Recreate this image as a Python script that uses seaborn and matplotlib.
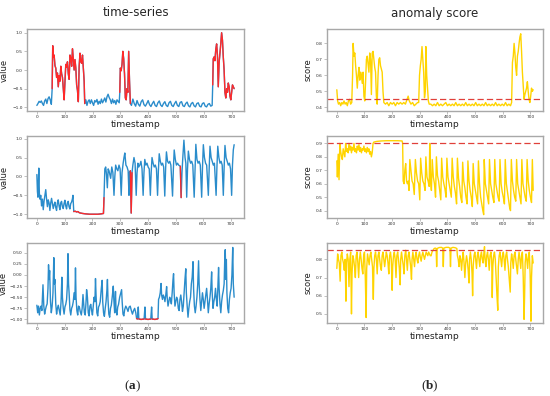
import matplotlib
matplotlib.use("Agg")
import matplotlib.pyplot as plt
from matplotlib.ticker import MultipleLocator
import seaborn as sns
import pandas as pd

# ---------------- data (timestamp, value) ----------------
ts1 = [(0,-0.95),(4,-0.9),(8,-0.84),(12,-0.87),(16,-0.83),(20,-0.9),(24,-0.95),(28,-0.83),(32,-0.78),(36,-0.9),
       (40,-0.77),(44,-0.72),(48,-0.8),(52,-0.92),(55,-0.5),
       (57,0.65),(59,0.35),(62,0.4),(65,0.12),(68,0.05),(71,-0.2),(74,-0.08),(77,-0.45),(80,-0.15),(83,-0.3),
       (86,0.1),(89,-0.1),(92,-0.2),(95,-0.5),(98,-0.8),(101,-0.3),(104,0.15),(107,0.08),(110,0.22),(113,-0.1),
       (116,-0.25),(119,0.4),(122,0.32),(125,0.1),(128,0.57),(131,0.3),(134,0.0),(137,0.28),(140,0.05),(143,-0.4),
       (146,-0.55),(149,-0.85),(152,0.1),(155,0.45),(158,0.22),(161,0.18),(164,0.4),(167,0.05),(170,-0.3),(172,-0.9),
       (176,-0.8),(180,-0.95),(184,-0.84),(188,-0.8),(192,-0.9),(196,-0.8),(200,-0.88),(204,-0.95),(208,-0.82),
       (212,-0.86),(216,-0.79),(220,-0.92),(224,-0.84),(228,-0.9),(232,-0.78),(236,-0.88),(240,-0.82),(244,-0.75),
       (248,-0.86),(252,-0.72),(256,-0.65),(260,-0.74),(264,-0.8),(268,-0.9),(272,-0.78),(276,-0.88),(280,-0.82),
       (284,-0.92),(288,-0.8),(292,-0.84),(296,-0.88),(298,-0.6),
       (300,0.05),(303,-0.02),(306,0.15),(309,0.5),(312,0.3),(315,-0.1),(318,-0.75),(321,-0.8),(324,-0.5),
       (327,-0.6),(330,0.5),(333,-0.3),(336,-0.9),
       (340,-0.95),(345,-0.78),(350,-0.9),(355,-0.97),(360,-0.82),(365,-0.92),(370,-0.97),(375,-0.85),(380,-0.8),
       (385,-0.93),(390,-0.97),(395,-0.9),(400,-0.82),(405,-0.93),(410,-0.98),(415,-0.9),(420,-0.84),(425,-0.95),
       (430,-0.98),(435,-0.88),(440,-0.83),(445,-0.94),(450,-0.98),(455,-0.9),(460,-0.85),(465,-0.95),(470,-0.98),
       (475,-0.88),(480,-0.84),(485,-0.95),(490,-0.98),(495,-0.9),(500,-0.84),(505,-0.95),(510,-0.98),(515,-0.87),
       (520,-0.85),(525,-0.96),(530,-0.98),(535,-0.9),(540,-0.86),(545,-0.96),(550,-0.99),(555,-0.9),(560,-0.87),
       (565,-0.96),(570,-0.99),(575,-0.9),(580,-0.88),(585,-0.97),(590,-0.99),(595,-0.9),(600,-0.88),(605,-0.97),
       (610,-0.99),(615,-0.92),(620,-0.9),(625,-0.97),(630,-0.95),(632,-0.4),
       (634,0.3),(637,0.35),(640,0.25),(643,0.55),(646,0.7),(649,0.4),(652,-0.45),(655,0.2),(658,0.45),(661,0.7),
       (664,1.0),(667,0.8),(670,0.35),(673,0.0),(676,-0.6),(679,-0.75),(682,-0.5),(685,-0.6),(688,-0.35),
       (691,-0.45),(694,-0.7),(697,-0.8),(700,-0.6),(703,-0.4),(706,-0.45),(709,-0.5)]
ts1_anomalies = [(55, 172), (298, 336), (632, 709)]

score1 = [(0,0.51),(3,0.44),(6,0.42),(10,0.43),(14,0.41),(18,0.43),(22,0.42),(26,0.44),(30,0.42),(34,0.43),
          (38,0.41),(42,0.44),(46,0.45),(50,0.42),(54,0.43),(57,0.6),(59,0.8),(62,0.72),(65,0.74),(68,0.66),
          (71,0.6),(74,0.52),(77,0.6),(80,0.65),(83,0.57),(86,0.62),(89,0.6),(92,0.55),(95,0.62),(98,0.47),
          (101,0.44),(104,0.56),(107,0.7),(110,0.72),(113,0.67),(116,0.62),(119,0.74),(122,0.7),(125,0.48),
          (128,0.74),(131,0.75),(134,0.7),(137,0.65),(140,0.62),(143,0.47),(146,0.42),(149,0.6),(152,0.7),
          (155,0.71),(158,0.66),(161,0.64),(164,0.62),(167,0.5),(170,0.43),
          (176,0.42),(182,0.43),(188,0.41),(194,0.43),(200,0.42),(206,0.43),(212,0.41),(218,0.43),(224,0.42),
          (230,0.43),(236,0.42),(242,0.43),(248,0.42),(254,0.45),(258,0.47),(262,0.44),(268,0.42),(274,0.43),
          (280,0.41),(286,0.42),(292,0.43),(296,0.43),
          (299,0.6),(302,0.66),(305,0.7),(308,0.78),(311,0.7),(314,0.62),(317,0.46),(320,0.5),(322,0.78),
          (325,0.6),(328,0.52),(331,0.44),(334,0.42),
          (340,0.42),(346,0.41),(352,0.42),(358,0.41),(364,0.43),(370,0.41),(376,0.42),(382,0.41),(388,0.42),
          (394,0.43),(400,0.41),(406,0.42),(412,0.41),(418,0.42),(424,0.41),(430,0.43),(436,0.41),(442,0.42),
          (448,0.41),(454,0.42),(460,0.41),(466,0.43),(472,0.41),(478,0.42),(484,0.41),(490,0.42),(496,0.41),
          (502,0.43),(508,0.41),(514,0.42),(520,0.41),(526,0.42),(532,0.41),(538,0.43),(544,0.41),(550,0.42),
          (556,0.41),(562,0.42),(568,0.41),(574,0.43),(580,0.41),(586,0.42),(592,0.41),(598,0.42),(604,0.41),
          (610,0.43),(616,0.41),(622,0.42),(628,0.41),(632,0.43),
          (635,0.68),(638,0.72),(641,0.8),(644,0.74),(647,0.65),(650,0.6),(653,0.72),(656,0.75),(659,0.8),
          (662,0.84),(665,0.86),(668,0.75),(671,0.62),(674,0.53),(677,0.45),(680,0.48),(683,0.5),(686,0.52),
          (689,0.56),(692,0.5),(695,0.45),(698,0.43),(701,0.47),(704,0.52),(707,0.5),(710,0.51)]
score1_threshold = 0.45

ts2 = [(0,0.05),(2,-0.4),(4,-0.55),(7,0.22),(9,-0.45),(11,-0.6),(14,-0.5),(17,-0.78),(20,-0.6),(23,-0.88),
       (26,-0.65),(29,-0.5),(32,-0.35),(35,-0.6),(38,-0.8),(41,-0.62),(44,-0.7),(47,-0.9),(50,-0.7),(53,-0.58),
       (56,-0.72),(59,-0.85),(62,-0.75),(65,-0.68),(68,-0.82),(71,-0.9),(74,-0.7),(77,-0.62),(80,-0.78),
       (83,-0.88),(86,-0.7),(89,-0.66),(92,-0.8),(95,-0.85),(98,-0.72),(101,-0.63),(104,-0.78),(107,-0.86),
       (110,-0.7),(113,-0.66),(116,-0.8),(119,-0.86),(122,-0.72),(125,-0.68),(128,-0.6),(130,-0.5),(133,-0.93),
       (138,-0.92),(143,-0.94),(148,-0.93),(153,-0.96),(158,-0.97),(165,-0.98),(175,-0.99),(190,-1.0),
       (205,-1.0),(220,-1.0),(232,-0.99),(240,-0.98),(242,-0.56),
       (245,0.2),(248,0.25),(251,0.05),(254,-0.3),(257,0.2),(260,0.15),(263,0.05),(266,-0.05),(270,0.25),
       (274,0.1),(278,-0.5),(281,0.0),(284,0.3),(288,0.2),(292,0.15),(296,0.3),(300,0.2),(304,-0.5),(307,0.1),
       (311,0.35),(314,0.5),(317,0.62),(321,0.3),(325,0.25),(329,0.15),(332,-0.5),(334,0.1),(337,0.15),
       (340,-0.97),(343,0.1),
       (346,0.3),(350,0.5),(354,0.35),(358,-0.5),(361,0.1),(364,0.35),(367,0.25),(371,0.3),(375,0.4),(379,0.2),
       (383,-0.5),(386,0.1),(389,0.45),(393,0.3),(397,0.35),(401,0.25),(405,0.2),(409,-0.5),(412,0.1),
       (415,0.5),(419,0.35),(423,0.25),(427,0.3),(431,0.2),(435,-0.5),(438,0.15),(441,0.6),(445,0.4),
       (449,0.3),(453,0.35),(457,0.25),(461,-0.52),(464,0.2),(467,0.65),(471,0.4),(475,0.35),(479,0.4),
       (483,0.3),(489,-0.52),(492,0.2),(495,0.7),(499,0.45),(503,0.3),(507,0.35),(511,0.3),(517,0.27),
       (520,-0.56),
       (523,0.1),(526,0.5),(530,0.96),(534,0.5),(537,0.35),(540,-0.55),(543,0.2),(546,0.67),(550,0.45),
       (554,0.35),(558,0.4),(562,0.3),(567,-0.55),(570,0.2),(573,0.85),(577,0.45),(581,0.35),(585,0.4),
       (589,0.3),(594,-0.55),(597,0.25),(600,0.84),(604,0.5),(608,0.35),(612,0.3),(618,-0.5),(621,0.2),
       (624,0.8),(628,0.5),(632,0.4),(636,0.3),(640,0.35),(646,-0.5),(649,0.25),(652,0.8),(656,0.5),(660,0.35),
       (664,0.4),(668,0.3),(672,-0.5),(675,0.25),(678,0.82),(682,0.5),(686,0.4),(690,0.3),(694,0.35),
       (698,0.2),(702,-0.5),(705,0.3),(708,0.7),(711,0.84)]
ts2_anomalies = [(133, 242), (337, 343), (517, 520)]

score2 = [(0,0.77),(2,0.65),(5,0.82),(8,0.63),(11,0.9),(14,0.84),(17,0.8),(20,0.78),(23,0.86),(26,0.83),
          (29,0.8),(32,0.9),(35,0.84),(38,0.86),(41,0.83),(44,0.9),(47,0.85),(50,0.88),(53,0.83),(56,0.87),
          (59,0.85),(62,0.9),(65,0.84),(68,0.86),(71,0.83),(74,0.88),(77,0.85),(80,0.89),(83,0.84),(86,0.87),
          (89,0.83),(92,0.86),(95,0.85),(98,0.88),(101,0.84),(104,0.86),(107,0.83),(110,0.87),(113,0.84),
          (116,0.86),(119,0.82),(122,0.84),(125,0.8),(128,0.83),(131,0.9),(134,0.91),(145,0.915),(160,0.918),
          (180,0.92),(200,0.92),(220,0.92),(236,0.918),(238,0.9),(240,0.62),
          (243,0.6),(246,0.7),(249,0.75),(252,0.62),(255,0.6),(258,0.62),(261,0.55),(264,0.78),(268,0.7),
          (272,0.62),(276,0.6),(280,0.52),(284,0.78),(288,0.68),(292,0.62),(296,0.6),(300,0.48),(303,0.79),
          (307,0.68),(311,0.62),(315,0.6),(319,0.55),(322,0.8),(326,0.65),(330,0.62),(334,0.58),(336,0.9),
          (339,0.62),(342,0.55),(345,0.78),(349,0.65),(353,0.6),(357,0.5),(360,0.8),(364,0.66),(368,0.62),
          (372,0.55),(376,0.48),(379,0.79),(383,0.65),(387,0.6),(391,0.56),(395,0.5),(398,0.79),(402,0.65),
          (406,0.6),(410,0.55),(414,0.5),(417,0.79),(421,0.65),(425,0.58),(429,0.53),(433,0.45),(436,0.79),
          (440,0.64),(444,0.58),(448,0.5),(452,0.46),(455,0.76),(459,0.62),(463,0.57),(467,0.5),(471,0.45),
          (474,0.77),(478,0.62),(482,0.55),(486,0.5),(490,0.43),(493,0.75),(497,0.6),(501,0.55),(505,0.5),
          (509,0.45),(512,0.77),(516,0.6),(520,0.5),(524,0.45),(528,0.4),(531,0.37),(533,0.78),(537,0.6),
          (541,0.55),(545,0.5),(549,0.45),(552,0.78),(556,0.6),(560,0.55),(564,0.5),(568,0.46),(571,0.78),
          (575,0.6),(579,0.55),(583,0.5),(587,0.47),(590,0.78),(594,0.6),(598,0.54),(602,0.5),(606,0.45),
          (609,0.78),(613,0.6),(617,0.54),(621,0.48),(625,0.42),(628,0.4),(631,0.78),(635,0.62),(639,0.55),
          (643,0.5),(647,0.47),(650,0.78),(654,0.6),(658,0.55),(662,0.5),(666,0.45),(669,0.78),(673,0.6),
          (677,0.55),(681,0.5),(685,0.47),(688,0.78),(692,0.62),(696,0.55),(700,0.5),(704,0.46),(707,0.78),
          (710,0.55)]
score2_threshold = 0.9

ts3 = [(0,-0.68),(3,-0.85),(6,-0.7),(9,-0.9),(12,-0.75),(15,-0.7),(18,-0.8),(22,-0.22),(25,-0.7),(28,-0.88),
       (31,-0.78),(34,-0.7),(37,-0.65),(40,-0.3),(42,0.23),(44,-0.1),(46,0.1),(49,-0.6),(52,-0.85),(55,-0.7),
       (58,-0.4),(61,0.39),(63,-0.2),(65,-0.1),(68,-0.65),(71,-0.88),(74,-0.75),(77,-0.68),(80,-0.78),
       (84,-0.9),(87,-0.6),(90,-0.05),(92,-0.5),(95,-0.75),(98,-0.88),(101,-0.72),(104,-0.66),(107,-0.55),
       (110,-0.2),(112,0.48),(114,-0.2),(116,-0.4),(119,-0.78),(122,-0.9),(125,-0.75),(128,-0.7),(131,-0.6),
       (134,-0.4),(137,-0.55),(139,0.16),(141,-0.5),(144,-0.8),(147,-0.9),(150,-0.7),(153,-0.72),(156,-0.82),
       (160,-0.9),(163,-0.75),(166,-0.44),(168,-0.6),(171,-0.85),(174,-0.9),(177,-0.6),(179,-0.33),(182,-0.5),
       (185,-0.85),(188,-0.92),(191,-0.7),(194,-0.66),(197,-0.8),(200,-0.9),(203,-0.7),(206,-0.5),(209,-0.6),
       (211,-0.08),(213,-0.45),(216,-0.85),(219,-0.92),(222,-0.72),(225,-0.68),(228,-0.6),(232,-0.3),
       (235,-0.12),(237,-0.6),(240,-0.85),(243,-0.93),(246,-0.75),(249,-0.6),(252,-0.35),(254,-0.1),
       (256,-0.55),(259,-0.88),(262,-0.95),(265,-0.75),(268,-0.68),(272,-0.45),(275,-0.25),(277,-0.55),
       (280,-0.85),(283,-0.37),(285,-0.8),(288,-0.9),(291,-0.72),(294,-0.66),(298,-0.5),(302,-0.4),
       (305,-0.33),(307,-0.6),(310,-0.88),(313,-0.92),(316,-0.78),(320,-0.7),(324,-0.75),(328,-0.82),
       (332,-0.72),(336,-0.7),(340,-0.8),(344,-0.88),(348,-0.8),(352,-0.75),(356,-0.85),(359,-0.98),
       (362,-0.99),(365,-0.72),(367,-0.99),(375,-1.0),(386,-0.99),(389,-0.72),(391,-0.99),(400,-1.0),
       (410,-0.99),(413,-0.72),(415,-0.99),(425,-1.0),(433,-0.99),(436,-0.98),
       (438,-0.55),(441,-0.5),(444,-0.4),(447,-0.19),(449,-0.45),(452,-0.55),(455,-0.45),(458,-0.5),
       (461,-0.6),(464,-0.45),(467,-0.26),(469,-0.5),(472,-0.7),(475,-0.6),(478,-0.5),(481,-0.55),(484,-0.65),
       (487,-0.4),(490,-0.1),(492,0.03),(494,-0.4),(497,-0.7),(500,-0.6),(503,-0.5),(506,-0.55),(509,-0.75),
       (512,-0.8),(515,-0.55),(518,-0.45),(521,-0.6),(524,-0.82),(527,-0.7),(530,-0.4),(533,-0.1),(536,0.14),
       (538,-0.4),(541,-0.7),(544,-0.95),(547,-0.75),(550,-0.6),(553,-0.5),(556,-0.2),(559,-0.05),(562,0.3),
       (564,-0.3),(567,-0.7),(570,-0.85),(573,-0.7),(576,-0.5),(579,-0.2),(582,0.32),(584,-0.2),(587,-0.55),
       (590,-0.8),(593,-0.6),(596,-0.4),(599,-0.55),(602,-0.75),(605,-0.6),(608,-0.45),(611,-0.3),(614,-0.55),
       (617,-0.85),(620,-0.65),(623,-0.5),(626,-0.3),(629,0.07),(631,-0.4),(634,-0.75),(637,-0.6),(640,-0.5),
       (643,-0.3),(646,-0.55),(649,-0.7),(652,-0.2),(654,0.17),(656,-0.3),(659,-0.65),(662,-0.85),(665,-0.6),
       (668,-0.45),(671,-0.35),(674,-0.2),(676,0.3),(678,0.57),(680,-0.1),(682,0.35),(684,-0.4),(687,-0.75),
       (690,-0.85),(693,-0.55),(696,-0.4),(699,-0.3),(702,0.0),(705,0.62),(707,-0.2),(710,-0.5)]
ts3_anomalies = [(359, 362), (367, 386), (391, 410), (415, 436)]

score3 = [(0,0.75),(3,0.83),(6,0.8),(9,0.78),(12,0.68),(15,0.82),(18,0.84),(21,0.8),(24,0.78),(27,0.74),
          (30,0.8),(33,0.57),(35,0.78),(38,0.83),(41,0.8),(44,0.65),(47,0.8),(50,0.84),(53,0.5),(55,0.72),
          (58,0.82),(61,0.8),(64,0.76),(67,0.7),(70,0.82),(73,0.84),(76,0.78),(79,0.7),(82,0.8),(85,0.84),
          (88,0.8),(91,0.75),(94,0.72),(97,0.82),(100,0.84),(103,0.7),(106,0.48),(108,0.75),(111,0.83),
          (114,0.8),(117,0.77),(120,0.82),(123,0.84),(126,0.8),(129,0.76),(132,0.58),(134,0.75),(137,0.82),
          (140,0.84),(143,0.8),(146,0.72),(149,0.82),(152,0.84),(155,0.8),(158,0.76),(161,0.74),(164,0.82),
          (167,0.84),(170,0.8),(173,0.76),(176,0.8),(179,0.84),(182,0.82),(185,0.78),(188,0.72),(191,0.82),
          (194,0.84),(197,0.8),(200,0.63),(202,0.76),(205,0.82),(208,0.84),(211,0.8),(214,0.7),(217,0.82),
          (220,0.84),(223,0.8),(226,0.75),(229,0.66),(231,0.8),(234,0.84),(237,0.8),(240,0.77),(243,0.72),
          (246,0.82),(249,0.85),(252,0.8),(255,0.74),(258,0.82),(261,0.84),(264,0.8),(267,0.76),(270,0.69),
          (272,0.8),(275,0.84),(278,0.8),(281,0.76),(284,0.82),(287,0.84),(290,0.8),(293,0.78),(296,0.82),
          (299,0.84),(302,0.81),(305,0.79),(308,0.82),(311,0.84),(314,0.82),(317,0.8),(320,0.82),(323,0.84),
          (326,0.83),(329,0.82),(332,0.84),(335,0.83),(338,0.82),(341,0.82),(344,0.84),(348,0.85),(352,0.86),
          (356,0.862),(359,0.86),(361,0.76),(363,0.86),(370,0.865),(378,0.866),(383,0.862),(385,0.76),
          (387,0.862),(395,0.866),(404,0.866),(409,0.862),(411,0.76),(413,0.862),(420,0.866),(428,0.864),
          (434,0.86),(436,0.82),(439,0.8),(442,0.76),(445,0.82),(448,0.8),(451,0.74),(454,0.8),(457,0.84),
          (460,0.78),(463,0.7),(466,0.78),(469,0.82),(472,0.79),(475,0.74),(478,0.67),(480,0.8),(483,0.84),
          (486,0.8),(489,0.72),(491,0.6),(493,0.76),(496,0.82),(499,0.84),(502,0.8),(505,0.75),(508,0.82),
          (511,0.84),(514,0.8),(517,0.76),(520,0.82),(523,0.84),(526,0.8),(529,0.78),(532,0.84),(534,0.87),
          (536,0.8),(539,0.76),(542,0.82),(545,0.84),(548,0.8),(551,0.74),(554,0.82),(557,0.84),(560,0.8),
          (562,0.59),(564,0.76),(567,0.82),(570,0.84),(573,0.8),(576,0.7),(579,0.6),(582,0.52),(584,0.76),
          (587,0.82),(590,0.84),(593,0.8),(596,0.76),(599,0.82),(602,0.84),(605,0.8),(608,0.74),(611,0.82),
          (614,0.84),(617,0.8),(620,0.76),(623,0.7),(627,0.62),(629,0.78),(632,0.83),(635,0.8),(638,0.75),
          (641,0.82),(644,0.84),(647,0.8),(650,0.76),(653,0.72),(656,0.8),(659,0.84),(662,0.8),(665,0.75),
          (668,0.82),(671,0.84),(674,0.7),(677,0.47),(679,0.6),(681,0.78),(684,0.83),(687,0.8),(690,0.75),
          (693,0.82),(696,0.84),(699,0.72),(702,0.46),(704,0.7),(707,0.82),(710,0.78)]
score3_threshold = 0.85

col_titles = ["time-series", "anomaly score"]
panel_labels = ["a", "b"]

# ---------------- style ----------------
sns.set_style("white")
plt.rcParams['font.family'] = ['DejaVu Sans']
plt.rcParams['mathtext.fontset'] = 'custom'
plt.rcParams['mathtext.bf'] = 'Liberation Serif:bold'
plt.rcParams['mathtext.rm'] = 'Liberation Serif'

BLUE = '#2a8ccb'
RED = '#ff2a2a'
GOLD = '#ffd400'
THR = '#e0403a'

W, H = 550, 396
fig = plt.figure(figsize=(W / 100, H / 100), dpi=100)


def px_axes(x0, y0, x1, y1):
    return fig.add_axes([x0 / W, 1 - y1 / H, (x1 - x0) / W, (y1 - y0) / H])


rows = [(29, 111), (136, 218), (243, 323)]
left_cols = (27, 244)
right_cols = (327, 543)


def style(ax, ylabel, ystep, ylabel_x):
    for sp in ax.spines.values():
        sp.set_color('#a8a8a8')
        sp.set_linewidth(1.0)
    ax.tick_params(axis='both', labelsize=3.2, length=2, width=0.5, colors='#a8a8a8',
                   labelcolor='#333333', pad=1.0, bottom=True, left=True)
    ax.xaxis.set_major_locator(MultipleLocator(100))
    ax.yaxis.set_major_locator(MultipleLocator(ystep))
    ax.set_xlabel('timestamp', fontsize=6.6, labelpad=0.8, color='#222222')
    ax.set_ylabel(ylabel, fontsize=6.0, color='#222222')
    ax.yaxis.set_label_coords(ylabel_x, 0.5)


def draw_series(ax, pts, anomalies, ylim, ystep, ylabel_x):
    df = pd.DataFrame(pts, columns=['timestamp', 'value'])
    sns.lineplot(data=df, x='timestamp', y='value', ax=ax, color=BLUE, lw=1.0,
                 estimator=None, sort=False)
    for a, b in anomalies:
        seg = df[(df['timestamp'] >= a) & (df['timestamp'] <= b)]
        sns.lineplot(data=seg, x='timestamp', y='value', ax=ax, color=RED, lw=1.0,
                     estimator=None, sort=False)
    ax.set_ylim(*ylim)
    style(ax, 'value', ystep, ylabel_x)


def draw_score(ax, pts, thr, ylim, ystep, ylabel_x):
    df = pd.DataFrame(pts, columns=['timestamp', 'score'])
    sns.lineplot(data=df, x='timestamp', y='score', ax=ax, color=GOLD, lw=1.0,
                 estimator=None, sort=False)
    ax.axhline(thr, color=THR, lw=0.9, ls=(0, (5, 2.5)))
    ax.set_ylim(*ylim)
    style(ax, 'score', ystep, ylabel_x)


series = [(ts1, ts1_anomalies, (-1.1, 1.1), 0.5, -0.085),
          (ts2, ts2_anomalies, (-1.1, 1.07), 0.5, -0.085),
          (ts3, ts3_anomalies, (-1.08, 0.72), 0.25, -0.087)]
scores = [(score1, score1_threshold, (0.377, 0.89), 0.1, -0.068),
          (score2, score2_threshold, (0.345, 0.955), 0.1, -0.068),
          (score3, score3_threshold, (0.45, 0.89), 0.1, -0.068)]

for (y0, y1), s, sc in zip(rows, series, scores):
    axl = px_axes(left_cols[0], y0, left_cols[1], y1)
    draw_series(axl, *s)
    axr = px_axes(right_cols[0], y0, right_cols[1], y1)
    draw_score(axr, *sc)

fig.text(135.5 / W, 1 - 13 / H, col_titles[0], ha='center', va='center', fontsize=8.6)
fig.text(435 / W, 1 - 13 / H, col_titles[1], ha='center', va='center', fontsize=8.6)

fig.text(132 / W, 1 - 386 / H, "(" + r"$\mathbf{" + panel_labels[0] + "}$" + ")", ha='center',
         va='center', fontsize=9.5, family='Liberation Serif')
fig.text(430 / W, 1 - 386 / H, "(" + r"$\mathbf{" + panel_labels[1] + "}$" + ")", ha='center',
         va='center', fontsize=9.5, family='Liberation Serif')

fig.savefig('out.png', dpi=100, facecolor='white')
